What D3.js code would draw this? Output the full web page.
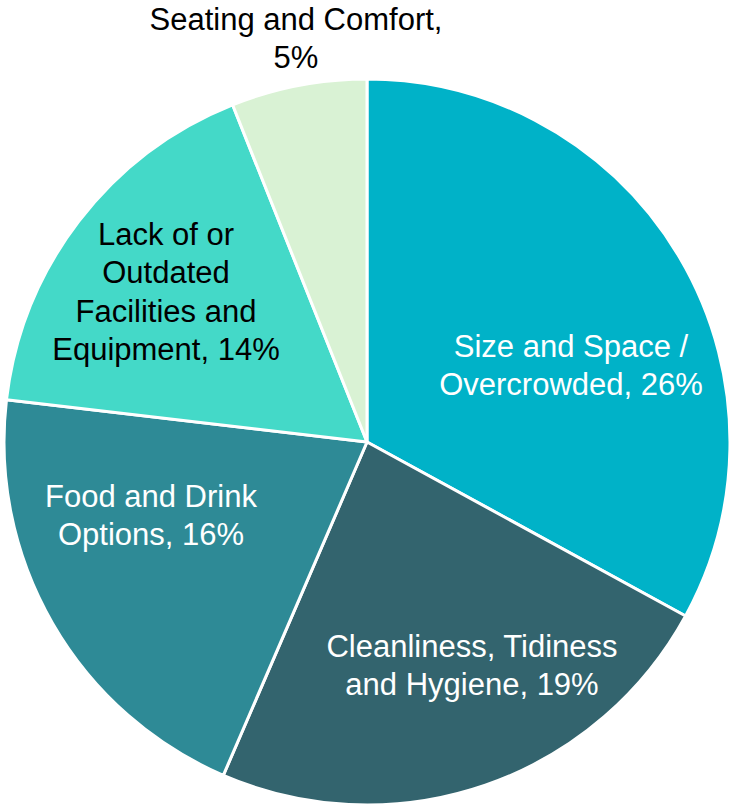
<!DOCTYPE html>
<html>
<head>
<meta charset="utf-8">
<script src="https://cdn.jsdelivr.net/npm/d3@7"></script>
<style>
  body { margin: 0; background: #fff; }
  text { font-family: "Liberation Sans", Arial, sans-serif; font-size: 31px; }
</style>
</head>
<body>
<svg id="chart"></svg>
<script>
const categories = [
  "Size and Space / Overcrowded",
  "Cleanliness, Tidiness and Hygiene",
  "Food and Drink Options",
  "Lack of or Outdated Facilities and Equipment",
  "Seating and Comfort"
];
// share of all comments (%); labels show rounded values
const values = [26.2, 18.7, 16.2, 13.6, 4.8];
// how each category name breaks over lines; the last line gets ", NN%"
const nameLines = [
  ["Size and Space /", "Overcrowded"],
  ["Cleanliness, Tidiness", "and Hygiene"],
  ["Food and Drink", "Options"],
  ["Lack of or", "Outdated", "Facilities and", "Equipment"],
  ["Seating and Comfort,", ""]
];

const colors = ["#00b2c8", "#33646e", "#2e8a96", "#44d9c8", "#d9f2d4"];
const textColors = ["#fff", "#fff", "#fff", "#000", "#000"];
// label anchor (center x, first baseline y), picked to match the original layout
const labelAnchor = [[571, 357], [472, 657], [151, 507], [166, 245], [296, 30]];
const lineH = 38.3;

const width = 732, height = 809;
const cx = 367, cy = 442, r = 363;

const svg = d3.select("#chart").attr("width", width).attr("height", height);

const pie = d3.pie().sort(null).value(d => d)(values);
const arc = d3.arc().innerRadius(0).outerRadius(r);

const g = svg.append("g").attr("transform", `translate(${cx},${cy})`);
g.selectAll("path")
  .data(pie)
  .join("path")
  .attr("d", arc)
  .attr("fill", (d, i) => colors[i])
  .attr("stroke", "#fff")
  .attr("stroke-width", 3)
  .attr("stroke-linejoin", "round");

const labelText = nameLines.map((lines, i) => {
  const pct = Math.round(values[i]) + "%";
  const out = lines.slice();
  const last = out.length - 1;
  out[last] = out[last] ? out[last] + ", " + pct : pct;
  return out;
});

const labels = svg.append("g")
  .selectAll("text")
  .data(labelText)
  .join("text")
  .attr("text-anchor", "middle")
  .attr("fill", (d, i) => textColors[i]);

labels.each(function(lines, i) {
  d3.select(this).selectAll("tspan")
    .data(lines)
    .join("tspan")
    .attr("x", labelAnchor[i][0])
    .attr("y", (l, j) => labelAnchor[i][1] + j * lineH)
    .text(l => l);
});
</script>
</body>
</html>
